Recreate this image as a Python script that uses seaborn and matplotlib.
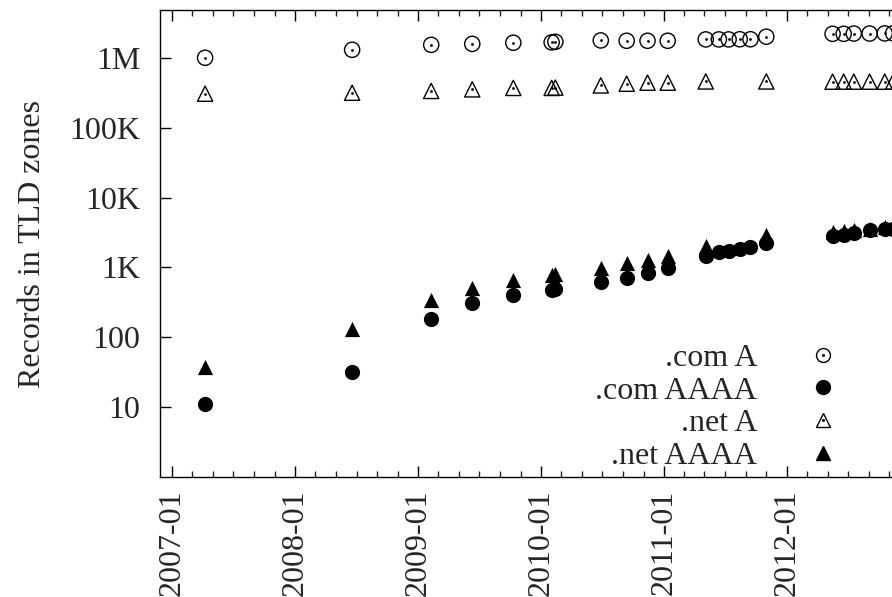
import pandas as pd
import seaborn as sns
import matplotlib.pyplot as plt
import matplotlib.dates as mdates
from matplotlib.lines import Line2D
from matplotlib.legend_handler import HandlerTuple

sns.set_style('ticks')
plt.rcParams['font.family'] = ['Liberation Serif', 'DejaVu Serif']

# survey dates (.com zones have a few more snapshots than .net)
dates_com = ["2007-04-08", "2008-06-18", "2009-02-08", "2009-06-10", "2009-10-10",
             "2010-02-01", "2010-02-12", "2010-06-27", "2010-09-12", "2010-11-13",
             "2011-01-12", "2011-05-05", "2011-06-13", "2011-07-12", "2011-08-14",
             "2011-09-15", "2011-11-01", "2012-05-16", "2012-06-18", "2012-07-18",
             "2012-09-03", "2012-10-18", "2012-11-12"]
dates_net = ["2007-04-08", "2008-06-18", "2009-02-08", "2009-06-10", "2009-10-10",
             "2010-02-01", "2010-02-12", "2010-06-27", "2010-09-12", "2010-11-13",
             "2011-01-12", "2011-05-05", "2011-11-01", "2012-05-16", "2012-06-18",
             "2012-07-18", "2012-09-03", "2012-10-18", "2012-11-12"]

com_a = [1.0e6, 1.30e6, 1.53e6, 1.58e6, 1.64e6, 1.66e6, 1.69e6, 1.77e6, 1.75e6, 1.75e6,
         1.75e6, 1.83e6, 1.83e6, 1.83e6, 1.84e6, 1.84e6, 2.0e6, 2.2e6, 2.2e6, 2.22e6,
         2.22e6, 2.23e6, 2.24e6]
com_aaaa = [11, 31.6, 181, 306, 398, 470, 490, 610, 696, 820,
            967, 1440, 1640, 1690, 1810, 1930, 2200, 2770, 2870, 3060,
            3380, 3490, 3600]
net_a = [3.06e5, 3.16e5, 3.35e5, 3.53e5, 3.70e5, 3.70e5, 3.74e5, 4.02e5, 4.25e5, 4.40e5,
         4.40e5, 4.58e5, 4.58e5, 4.55e5, 4.55e5, 4.55e5, 4.55e5, 4.55e5, 4.55e5]
net_aaaa = [37.2, 130, 341, 501, 652, 790, 810, 970, 1140, 1260,
            1440, 2000, 2870, 3160, 3270, 3380, 3600, 3730, 3850]

ytick_vals = [10, 100, 1e3, 1e4, 1e5, 1e6]
ytick_labels = ["10", "100", "1K", "10K", "100K", "1M"]
xtick_dates = ["2007-01-01", "2008-01-01", "2009-01-01", "2010-01-01", "2011-01-01", "2012-01-01"]

df_com = pd.DataFrame({"date": pd.to_datetime(dates_com), "A": com_a, "AAAA": com_aaaa})
df_net = pd.DataFrame({"date": pd.to_datetime(dates_net), "A": net_a, "AAAA": net_aaaa})

fig = plt.figure(figsize=(8.92, 5.97), dpi=100)
ax = fig.add_axes([0.1794, 0.201, 0.863, 0.782])

ms = 120
sns.scatterplot(data=df_com, x="date", y="A", marker="o", s=ms, facecolor="none",
                edgecolor="black", linewidth=1.0, ax=ax)
sns.scatterplot(data=df_com, x="date", y="AAAA", marker="o", s=ms, color="black",
                edgecolor="black", linewidth=0, ax=ax)
sns.scatterplot(data=df_net, x="date", y="A", marker="^", s=ms, facecolor="none",
                edgecolor="black", linewidth=1.0, ax=ax)
sns.scatterplot(data=df_net, x="date", y="AAAA", marker="^", s=ms, color="black",
                edgecolor="black", linewidth=0, ax=ax)
# gnuplot-like centre dots in the open symbols
ax.scatter(df_com["date"], df_com["A"], s=1, color="black", zorder=3)
ax.scatter(df_net["date"], df_net["A"], s=1, color="black", zorder=3)

ax.set_yscale("log")
ax.set_ylim(1, 4.8e6)
ax.set_xlim(pd.Timestamp("2006-11-25"), pd.Timestamp("2013-03-01"))
ax.set_yticks(ytick_vals)
ax.set_yticklabels(ytick_labels)
ax.yaxis.set_minor_locator(plt.NullLocator())

ax.set_xticks(pd.to_datetime(xtick_dates))
ax.xaxis.set_major_formatter(mdates.DateFormatter("%Y-%m"))
ax.xaxis.set_minor_locator(mdates.MonthLocator(bymonth=[3, 5, 7, 9, 11]))
plt.setp(ax.get_xticklabels(), rotation=90, ha="center", va="top")

ax.tick_params(axis="both", which="major", direction="in", length=8, width=1,
               labelsize=23, top=True, right=True, color="black")
ax.tick_params(axis="y", which="major", pad=14)
ax.tick_params(axis="x", which="major", pad=9)
ax.tick_params(axis="x", which="minor", direction="in", length=4, width=1, top=True)
for sp in ax.spines.values():
    sp.set_linewidth(1.0)
    sp.set_color("black")

ax.set_xlabel("")
ax.set_ylabel("Records in TLD zones", fontsize=23, labelpad=16)

# legend: label on the left, symbol on the right
dot = Line2D([], [], marker="o", ms=1.2, color="black", ls="none")
h_coma = (Line2D([], [], marker="o", ms=10, mfc="none", mec="black", mew=1.0, ls="none"), dot)
h_comaaaa = Line2D([], [], marker="o", ms=10, color="black", ls="none")
h_neta = (Line2D([], [], marker="^", ms=10, mfc="none", mec="black", mew=1.0, ls="none"), dot)
h_netaaaa = Line2D([], [], marker="^", ms=10, color="black", ls="none")
ax.legend([h_coma, h_comaaaa, h_neta, h_netaaaa],
          [".com A", ".com AAAA", ".net A", ".net AAAA"],
          handler_map={tuple: HandlerTuple(ndivide=1)},
          loc="lower right", bbox_to_anchor=(0.992, 0.174), bbox_transform=fig.transFigure,
          frameon=False, markerfirst=False, fontsize=23, handlelength=2.5,
          handletextpad=0.8, labelspacing=0.1, borderpad=0.2)

fig.savefig("out.png", dpi=100)
